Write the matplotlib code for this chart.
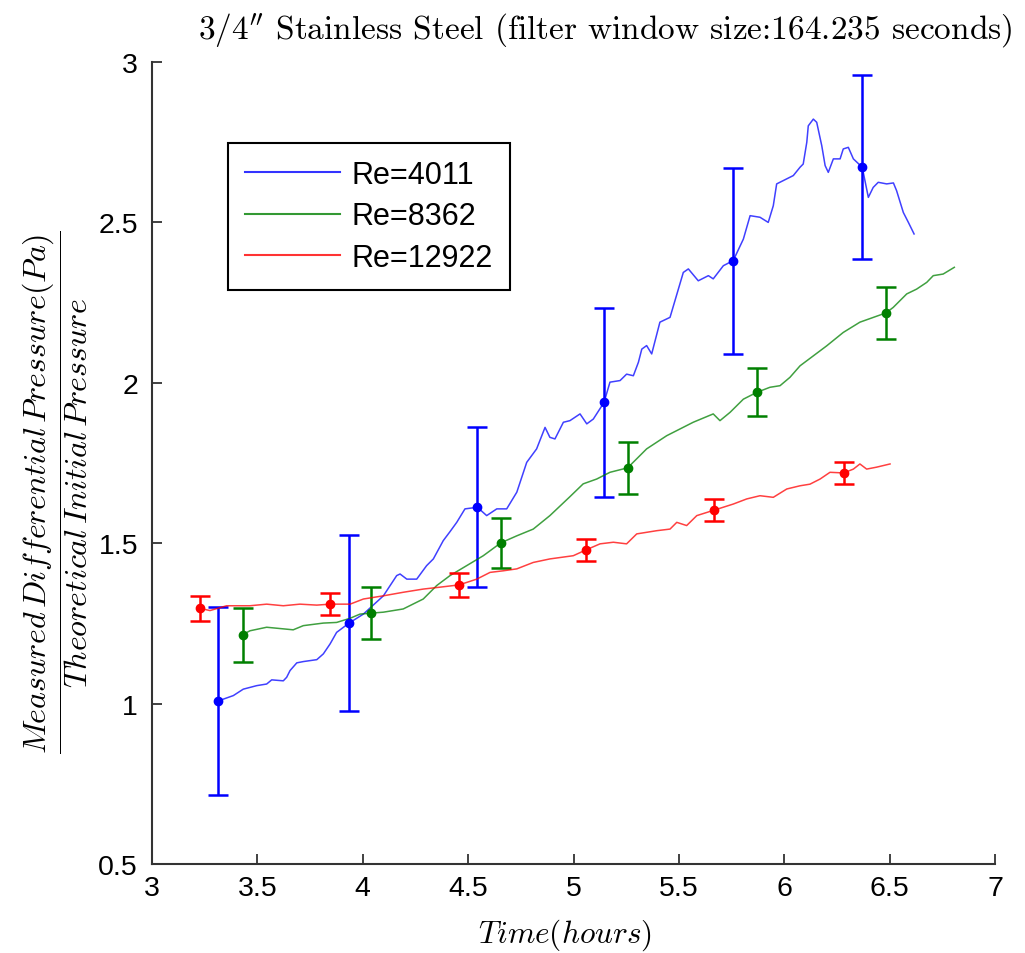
import matplotlib
matplotlib.use("Agg")
import matplotlib.pyplot as plt

plt.rcParams["mathtext.fontset"] = "cm"
plt.rcParams["font.family"] = ["Liberation Sans", "DejaVu Sans"]

# ---------------- data ----------------
# Re=4011 (blue) filtered trace
blue_t = [3.313, 3.386, 3.433, 3.497, 3.544, 3.568, 3.623, 3.639, 3.655, 3.687,
          3.718, 3.782, 3.813, 3.845, 3.876, 3.935, 4.003, 4.098, 4.161, 4.177,
          4.209, 4.256, 4.303, 4.335, 4.382, 4.414, 4.446, 4.485, 4.544, 4.588,
          4.636, 4.683, 4.731, 4.778, 4.825, 4.865, 4.888, 4.912, 4.952, 4.983,
          5.031, 5.063, 5.094, 5.145, 5.173, 5.221, 5.252, 5.284, 5.308, 5.324,
          5.347, 5.371, 5.410, 5.458, 5.521, 5.545, 5.592, 5.640, 5.663, 5.711,
          5.758, 5.806, 5.838, 5.885, 5.924, 5.948, 5.964, 6.043, 6.075, 6.090,
          6.107, 6.114, 6.138, 6.154, 6.178, 6.194, 6.209, 6.233, 6.265, 6.280,
          6.304, 6.328, 6.370, 6.399, 6.422, 6.446, 6.486, 6.518, 6.533, 6.565,
          6.589, 6.616]
blue_p = [1.008, 1.025, 1.045, 1.056, 1.061, 1.074, 1.071, 1.082, 1.103, 1.127,
          1.131, 1.137, 1.155, 1.186, 1.222, 1.251, 1.279, 1.336, 1.399, 1.404,
          1.388, 1.388, 1.430, 1.451, 1.508, 1.536, 1.565, 1.607, 1.612, 1.586,
          1.607, 1.607, 1.659, 1.752, 1.794, 1.861, 1.830, 1.825, 1.877, 1.882,
          1.903, 1.872, 1.887, 1.939, 2.002, 2.007, 2.027, 2.022, 2.064, 2.105,
          2.116, 2.090, 2.189, 2.204, 2.344, 2.355, 2.318, 2.334, 2.324, 2.365,
          2.381, 2.448, 2.521, 2.516, 2.500, 2.552, 2.620, 2.646, 2.672, 2.682,
          2.750, 2.801, 2.822, 2.812, 2.739, 2.677, 2.656, 2.698, 2.698, 2.729,
          2.734, 2.698, 2.672, 2.578, 2.609, 2.625, 2.620, 2.623, 2.599, 2.531,
          2.500, 2.464]

# Re=8362 (green)
green_t = [3.430, 3.465, 3.544, 3.623, 3.670, 3.718, 3.813, 3.876, 3.940, 3.987,
           4.039, 4.098, 4.192, 4.287, 4.351, 4.414, 4.493, 4.572, 4.655, 4.731,
           4.809, 4.888, 4.983, 5.046, 5.110, 5.173, 5.257, 5.315, 5.347, 5.442,
           5.568, 5.663, 5.695, 5.743, 5.806, 5.869, 5.932, 5.980, 6.027, 6.075,
           6.138, 6.201, 6.280, 6.359, 6.483, 6.517, 6.581, 6.628, 6.676, 6.707,
           6.754, 6.807]
green_p = [1.215, 1.227, 1.238, 1.233, 1.230, 1.243, 1.251, 1.253, 1.266, 1.279,
           1.282, 1.285, 1.295, 1.326, 1.368, 1.399, 1.430, 1.461, 1.501, 1.523,
           1.544, 1.586, 1.645, 1.685, 1.700, 1.721, 1.735, 1.773, 1.794, 1.835,
           1.877, 1.903, 1.882, 1.908, 1.949, 1.970, 1.986, 1.991, 2.017, 2.053,
           2.084, 2.115, 2.157, 2.189, 2.218, 2.235, 2.277, 2.292, 2.313, 2.334,
           2.339, 2.360]

# Re=12922 (red)
red_t = [3.228, 3.275, 3.354, 3.465, 3.544, 3.623, 3.702, 3.782, 3.845, 3.940,
         4.003, 4.098, 4.192, 4.287, 4.367, 4.457, 4.541, 4.604, 4.667, 4.731,
         4.809, 4.888, 4.999, 5.059, 5.126, 5.189, 5.252, 5.300, 5.395, 5.458,
         5.490, 5.537, 5.585, 5.667, 5.758, 5.822, 5.885, 5.948, 6.012, 6.075,
         6.122, 6.170, 6.217, 6.282, 6.328, 6.359, 6.391, 6.438, 6.502]
red_p = [1.297, 1.290, 1.305, 1.305, 1.310, 1.305, 1.310, 1.307, 1.310, 1.310,
         1.326, 1.336, 1.347, 1.357, 1.363, 1.370, 1.388, 1.409, 1.414, 1.420,
         1.440, 1.451, 1.461, 1.479, 1.498, 1.503, 1.498, 1.529, 1.539, 1.544,
         1.565, 1.555, 1.586, 1.603, 1.622, 1.638, 1.648, 1.643, 1.669, 1.679,
         1.684, 1.700, 1.721, 1.719, 1.731, 1.747, 1.731, 1.737, 1.747]

# error bar samples
blue_eb_t = [3.313, 3.935, 4.544, 5.145, 5.758, 6.370]
blue_eb_p = [1.008, 1.251, 1.612, 1.939, 2.381, 2.672]
blue_eb_e = [0.294, 0.274, 0.249, 0.294, 0.290, 0.287]

green_eb_t = [3.430, 4.039, 4.655, 5.257, 5.869, 6.483]
green_eb_p = [1.215, 1.282, 1.501, 1.735, 1.970, 2.218]
green_eb_e = [0.084, 0.082, 0.078, 0.081, 0.075, 0.081]

red_eb_t = [3.228, 3.845, 4.457, 5.059, 5.667, 6.282]
red_eb_p = [1.297, 1.310, 1.370, 1.479, 1.603, 1.719]
red_eb_e = [0.038, 0.035, 0.037, 0.034, 0.034, 0.035]

labels = ["Re=4011", "Re=8362", "Re=12922"]
colors = ["#0000ff", "#008000", "#ff0000"]

# ---------------- plot ----------------
fig = plt.figure(figsize=(10.25, 9.54), dpi=100)
ax = fig.add_axes([152 / 1025, 89 / 954, 843 / 1025, 802 / 954])

series = [(blue_t, blue_p, blue_eb_t, blue_eb_p, blue_eb_e),
          (green_t, green_p, green_eb_t, green_eb_p, green_eb_e),
          (red_t, red_p, red_eb_t, red_eb_p, red_eb_e)]

for (t, p, et, ep, ee), lab, col in zip(series, labels, colors):
    ax.plot(t, p, color=col, lw=1.1, alpha=0.75, label=lab)
    ax.errorbar(et, ep, yerr=ee, fmt="o", color=col, ms=6, elinewidth=1.8,
                capsize=7, capthick=1.8)

ax.set_xlim(3, 7)
ax.set_ylim(0.5, 3)
ax.set_xticks([3, 3.5, 4, 4.5, 5, 5.5, 6, 6.5, 7])
ax.set_xticklabels(["3", "3.5", "4", "4.5", "5", "5.5", "6", "6.5", "7"])
ax.set_yticks([0.5, 1, 1.5, 2, 2.5, 3])
ax.set_yticklabels(["0.5", "1", "1.5", "2", "2.5", "3"])
ax.tick_params(direction="in", length=7, width=1.3, labelsize=20.5,
               top=False, right=False, colors="#333333", labelcolor="black")
ax.tick_params(axis="x", pad=8)
ax.tick_params(axis="y", pad=10)
for s in ["top", "right"]:
    ax.spines[s].set_visible(False)
for s in ["left", "bottom"]:
    ax.spines[s].set_linewidth(1.5)
    ax.spines[s].set_color("#333333")

leg = ax.legend(loc="upper left", bbox_to_anchor=(228 / 1025, 1 - 144 / 954),
                bbox_transform=fig.transFigure, borderaxespad=0, fontsize=22,
                fancybox=False, framealpha=1, edgecolor="black",
                handlelength=3.1, handletextpad=0.4, labelspacing=0.38,
                borderpad=0.55)
leg.get_frame().set_linewidth(1.5)
for h in leg.get_lines():
    h.set_alpha(0.8)
    h.set_linewidth(1.5)

fig.text(605 / 1025, 1 - 30 / 954,
         "3/4$^{\\prime\\prime}$ Stainless Steel (filter window size:164.235 seconds)",
         family="cmr10", fontsize=24, ha="center", va="center")
fig.text(565 / 1025, 1 - 935 / 954, r"$Time(hours)$", fontsize=22.5,
         ha="center", va="center")
fig.text(55 / 1025, 1 - 492 / 954,
         r"$\dfrac{Measured\,Differential\,Pressure(Pa)}{Theoretical\,Initial\,Pressure}$",
         fontsize=23, rotation=90, ha="center", va="center")

fig.savefig("out.png", dpi=100)
